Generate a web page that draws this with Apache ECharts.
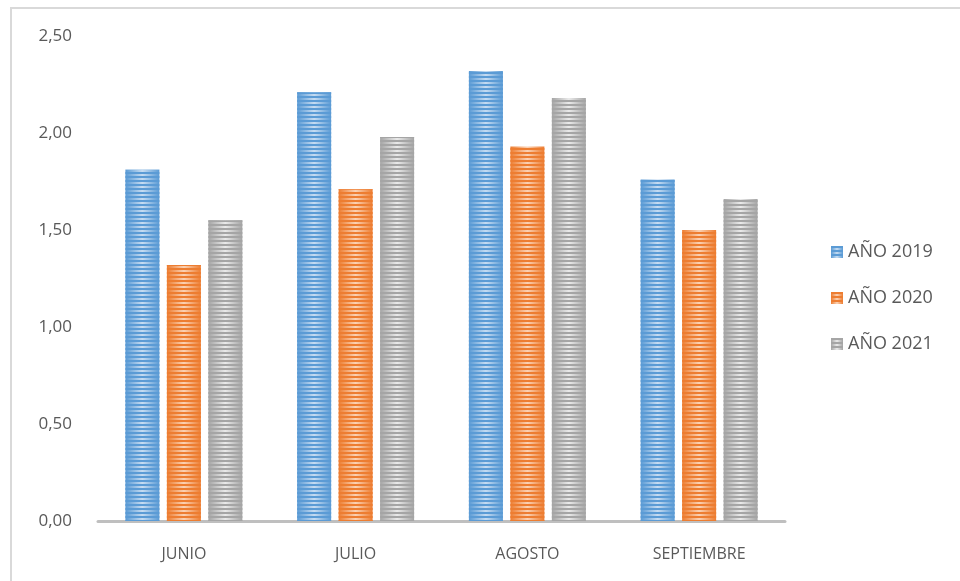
<!DOCTYPE html>
<html>
<head>
<meta charset="utf-8">
<script src="https://cdn.jsdelivr.net/npm/echarts@6/dist/echarts.min.js"></script>
<style>
html,body{margin:0;padding:0;background:#fff;}
#chart{width:960px;height:581px;}
</style>
</head>
<body>
<div id="chart"></div>
<script>
var meses = ['JUNIO', 'JULIO', 'AGOSTO', 'SEPTIEMBRE'];
var nombres = ['AÑO 2019', 'AÑO 2020', 'AÑO 2021'];
var anio2019 = [1.81, 2.21, 2.32, 1.76];
var anio2020 = [1.32, 1.71, 1.93, 1.50];
var anio2021 = [1.55, 1.98, 2.18, 1.66];

// colores: oscuro en los bordes, claro en el centro
var colores = [
    ['#5b9bd5', '#c6dcf2'],
    ['#ed7d31', '#fbd2b4'],
    ['#a5a5a5', '#eaeaea']
];

function relleno(c){
    return new echarts.graphic.LinearGradient(0, 0, 1, 0, [
        {offset: 0, color: c[0]},
        {offset: 0.5, color: c[1]},
        {offset: 1, color: c[0]}
    ]);
}

function serie(i, datos){
    return {
        name: nombres[i],
        type: 'bar',
        data: datos,
        barWidth: 34,
        barGap: '22%',
        itemStyle: {
            color: relleno(colores[i]),
            decal: {
                symbol: 'rect',
                symbolSize: 1,
                dashArrayX: [[1, 0]],
                dashArrayY: [2, 2],
                rotation: 0,
                color: colores[i][0]
            }
        }
    };
}

function fmt(v){
    return v.toFixed(2).replace('.', ',');
}

var myChart = echarts.init(document.getElementById('chart'));
var option = {
    backgroundColor: '#fff',
    textStyle: {fontFamily: '"Open Sans", Lato, sans-serif'},
    graphic: [{
        type: 'rect',
        shape: {x: 11, y: 8, width: 1000, height: 620},
        style: {fill: 'none', stroke: '#d9d9d9', lineWidth: 2},
        silent: true
    }],
    grid: {left: 98, right: 175, top: 36, bottom: 60},
    legend: {
        orient: 'vertical',
        left: 826,
        top: 238,
        icon: 'rect',
        itemWidth: 12,
        itemHeight: 12,
        itemGap: 28,
        textStyle: {color: '#595959', fontSize: 18},
        data: nombres
    },
    xAxis: {
        type: 'category',
        data: meses,
        axisLine: {lineStyle: {color: '#bfbfbf', width: 3}},
        axisTick: {show: false},
        axisLabel: {color: '#595959', fontSize: 16, margin: 25}
    },
    yAxis: {
        type: 'value',
        min: 0,
        max: 2.5,
        interval: 0.5,
        axisLine: {show: false},
        axisTick: {show: false},
        splitLine: {show: false},
        axisLabel: {color: '#595959', fontSize: 17, margin: 26, formatter: fmt}
    },
    series: [
        serie(0, anio2019),
        serie(1, anio2020),
        serie(2, anio2021)
    ]
};
myChart.setOption(option);
</script>
</body>
</html>
